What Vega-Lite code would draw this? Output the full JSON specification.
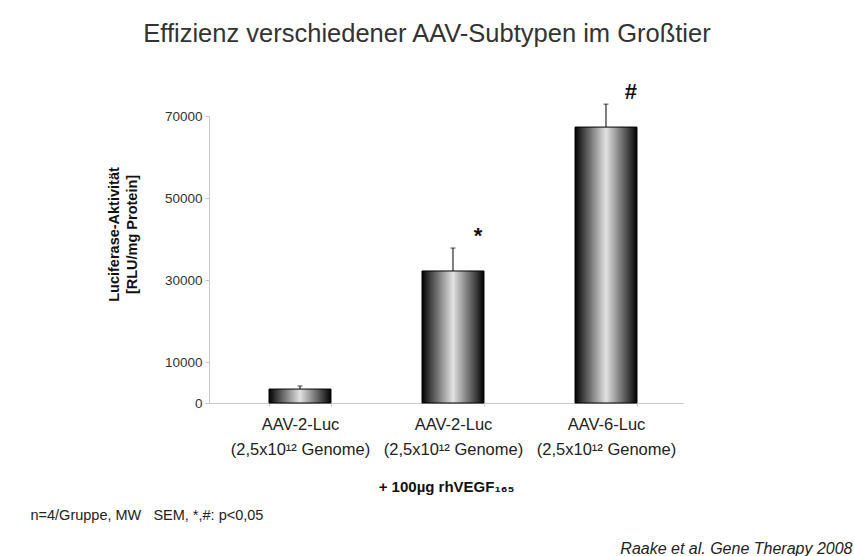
{
  "$schema": "https://vega.github.io/schema/vega-lite/v6.json",
  "autosize": {"type": "none"},
  "width": 474,
  "height": 287,
  "padding": {"left": 209, "top": 116, "right": 171, "bottom": 153},
  "background": "white",
  "config": {
    "view": {"stroke": null},
    "font": "Liberation Sans",
    "axis": {"grid": false}
  },
  "title": {
    "text": "Effizienz verschiedener AAV-Subtypen im Großtier",
    "fontSize": 25.5,
    "fontWeight": "normal",
    "color": "#333333",
    "anchor": "middle",
    "offset": 34,
    "dx": -19
  },
  "data": {
    "values": [
      {"gruppe": "AAV-2-Luc", "mw": 3400, "err_top": 4150, "sig": ""},
      {"gruppe": "AAV-2-Luc + rhVEGF", "mw": 32200, "err_top": 37800, "sig": "*"},
      {"gruppe": "AAV-6-Luc + rhVEGF", "mw": 67300, "err_top": 72900, "sig": "#"}
    ]
  },
  "resolve": {"axis": {"x": "independent"}},
  "layer": [
    {
      "mark": {
        "type": "bar",
        "stroke": "black",
        "strokeWidth": 1,
        "fill": {
          "gradient": "linear",
          "x1": 0, "y1": 0, "x2": 1, "y2": 0,
          "stops": [
            {"offset": 0, "color": "#000000"},
            {"offset": 0.12, "color": "#3a3a3a"},
            {"offset": 0.5, "color": "#e2e2e2"},
            {"offset": 0.88, "color": "#3a3a3a"},
            {"offset": 1, "color": "#000000"}
          ]
        }
      },
      "encoding": {
        "x": {
          "field": "gruppe", "type": "nominal", "sort": null,
          "scale": {"paddingInner": 0.595, "paddingOuter": 0.3465, "align": 0.566},
          "axis": {
            "labelExpr": "datum.label ? [replace(datum.label, ' + rhVEGF', ''), '(2,5x10¹² Genome)'] : ''",
            "labelAngle": 0,
            "labelFontSize": 16.5,
            "labelColor": "#222222",
            "labelLineHeight": 25,
            "labelPadding": 10,
            "tickBand": "extent",
            "tickSize": 3,
            "tickColor": "#c8c8c8",
            "domainColor": "#c8c8c8",
            "title": "+ 100µg rhVEGF₁₆₅",
            "titleFontSize": 15,
            "titleFontWeight": "bold",
            "titleColor": "#111111",
            "titlePadding": 22
          }
        },
        "y": {
          "field": "mw", "type": "quantitative",
          "scale": {"domain": [0, 70000], "nice": false},
          "title": ["Luciferase-Aktivität", "[RLU/mg Protein]"],
          "axis": {
            "values": [0, 10000, 30000, 50000, 70000],
            "format": "d",
            "labelFontSize": 13.5,
            "labelColor": "#333333",
            "labelPadding": 3,
            "tickSize": 4,
            "tickColor": "#c8c8c8",
            "domainColor": "#c8c8c8",
            "titleFontSize": 14.5,
            "titleFontWeight": "bold",
            "titleColor": "#111111",
            "titlePadding": 25,
            "titleLineHeight": 18,
            "titleY": 118
          }
        }
      }
    },
    {
      "mark": {"type": "rule", "color": "black", "strokeWidth": 1},
      "encoding": {
        "x": {
          "field": "gruppe", "type": "nominal", "sort": null,
          "axis": {
            "labels": false, "ticks": false, "domain": false,
            "title": "n=4/Gruppe, MW\u00a0\u00a0\u00a0SEM, *,#: p<0,05",
            "titleFontSize": 14.5,
            "titleFontWeight": "normal",
            "titleColor": "#222222",
            "titleAlign": "left",
            "titleAnchor": "start",
            "titleBaseline": "middle",
            "titleX": -179,
            "titleY": 399
          }
        },
        "y": {"field": "mw", "type": "quantitative", "title": ["Luciferase-Aktivität", "[RLU/mg Protein]"]},
        "y2": {"field": "err_top"}
      }
    },
    {
      "mark": {"type": "tick", "orient": "horizontal", "color": "black", "size": 5, "thickness": 1},
      "encoding": {
        "x": {
          "field": "gruppe", "type": "nominal", "sort": null,
          "axis": {
            "labels": false, "ticks": false, "domain": false,
            "title": "Raake et al. Gene Therapy 2008",
            "titleFontSize": 16,
            "titleFontWeight": "normal",
            "titleFontStyle": "italic",
            "titleColor": "#222222",
            "titleAlign": "right",
            "titleAnchor": "end",
            "titleBaseline": "middle",
            "titleX": 643,
            "titleY": 432
          }
        },
        "y": {"field": "err_top", "type": "quantitative", "title": ["Luciferase-Aktivität", "[RLU/mg Protein]"]}
      }
    },
    {
      "mark": {"type": "text", "fontSize": 22, "fontWeight": "bold", "color": "#111111", "dx": 25, "dy": -12, "baseline": "middle"},
      "encoding": {
        "x": {"field": "gruppe", "type": "nominal", "sort": null, "axis": null},
        "y": {"field": "err_top", "type": "quantitative", "title": ["Luciferase-Aktivität", "[RLU/mg Protein]"]},
        "text": {"field": "sig"}
      }
    }
  ]
}
